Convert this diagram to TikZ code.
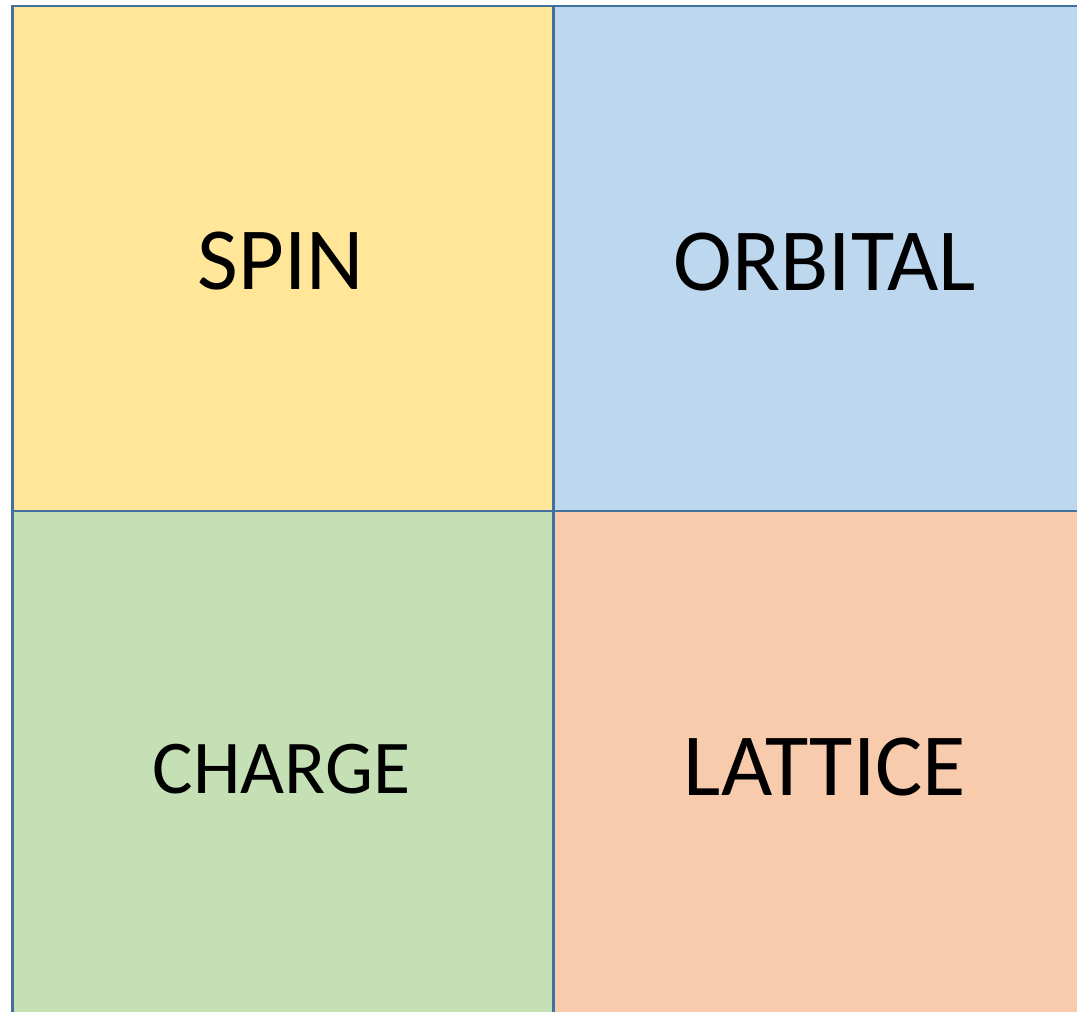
\documentclass[tikz,border=0pt]{standalone}
\usepackage{fontspec}
\setmainfont{Carlito}
\definecolor{cyellow}{HTML}{FFE699}
\definecolor{cblue}{HTML}{BDD7EE}
\definecolor{cgreen}{HTML}{C5E0B4}
\definecolor{corange}{HTML}{F8CBAD}
\definecolor{cborder}{HTML}{41719C}
\begin{document}
\begin{tikzpicture}[x=0.75pt,y=-0.75pt,
  cell/.style={draw=cborder,line width=2.1pt},
  lbl/.style={anchor=base,inner sep=0pt,text=black},
  big/.style={font=\fontsize{66.5}{80}\selectfont},
  small/.style={font=\fontsize{57}{68}\selectfont}]
\useasboundingbox (0,0) rectangle (1077,1012);
\clip (0,0) rectangle (1077,1012);
\fill[white] (0,0) rectangle (1077,1012);
\filldraw[cell,fill=cyellow] (12.5,6) rectangle (553.5,511);
\filldraw[cell,fill=cblue] (553.5,6) rectangle (1110,511);
\filldraw[cell,fill=cgreen] (12.5,511) rectangle (553.5,1030);
\filldraw[cell,fill=corange] (553.5,511) rectangle (1110,1030);
\node[lbl,big] (spin) at (281,290) {SPIN};
\node[lbl,big] (orbital) at (825,291) {ORBITAL};
\node[lbl,small] (charge) at (281.5,793) {CHARGE};
\node[lbl,big] (lattice) at (825,795) {LATTICE};
\end{tikzpicture}
\end{document}
